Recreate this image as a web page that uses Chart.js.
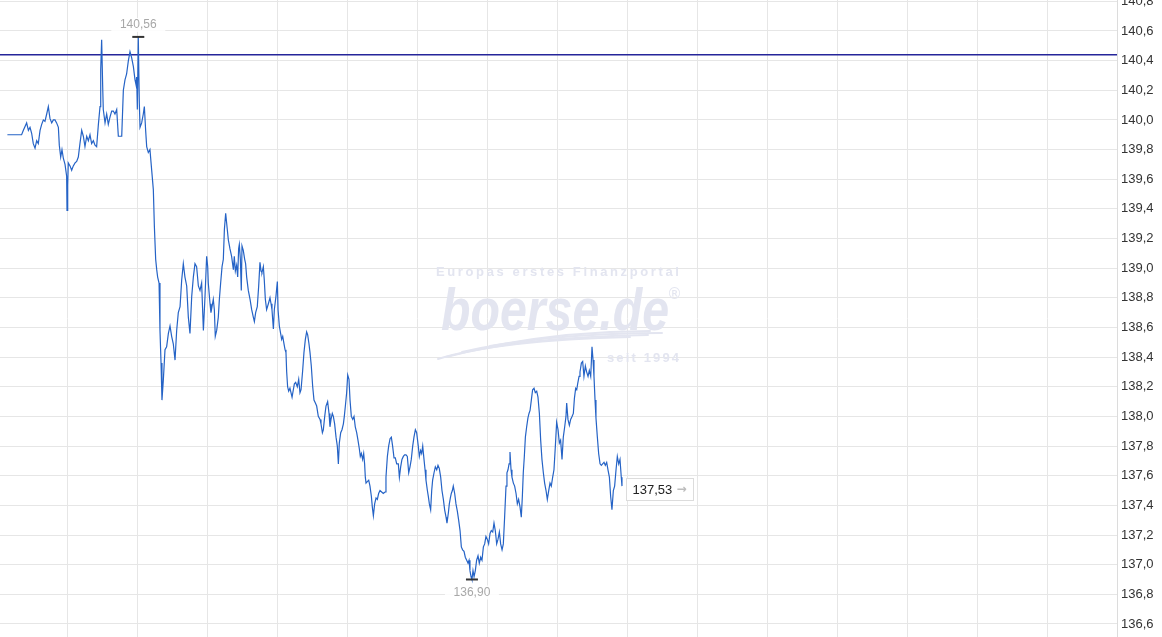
<!DOCTYPE html>
<html><head><meta charset="utf-8">
<script src="https://cdn.jsdelivr.net/npm/chart.js@4/dist/chart.umd.min.js"></script>
<style>html,body{margin:0;padding:0;background:#fff;overflow:hidden}canvas{display:block}</style>
</head><body>
<canvas id="c" width="1162" height="637"></canvas>
<script>
// Time of each quote, minutes after 07:00
const minutes = [
  8.9,21.1,22.6,25.4,26.9,28.3,29.7,31.1,32.6,34.0,
  35.4,36.9,38.3,39.7,41.1,42.6,44.0,45.4,46.9,48.3,
  49.7,51.1,52.6,53.4,54.6,55.7,56.9,58.3,59.7,60.0,
  60.6,61.1,62.6,64.0,65.4,66.9,68.3,69.7,71.1,72.6,
  74.0,75.4,76.9,78.3,79.7,81.1,82.6,84.0,85.4,86.9,
  88.3,88.9,89.7,90.6,91.1,92.6,94.0,95.4,96.9,98.3,
  99.7,101.1,102.6,104.0,106.9,108.3,109.7,111.1,112.6,114.0,
  115.4,116.9,118.3,119.1,119.7,120.3,121.1,122.0,122.6,124.0,
  125.4,126.3,127.4,128.3,129.7,131.1,132.6,134.0,134.9,136.0,
  136.9,137.7,138.9,139.7,140.6,141.4,142.6,144.0,145.4,146.9,
  148.3,149.7,151.1,152.6,154.0,155.4,156.9,158.3,159.7,161.1,
  162.6,164.0,165.4,166.9,168.3,169.7,171.1,172.6,174.0,175.4,
  176.9,178.3,179.7,
  180.6,181.1,182.6,183.4,184.3,185.4,186.3,187.1,188.3,189.7,
  190.6,191.7,192.9,194.0,194.9,196.0,196.9,198.3,199.7,201.1,
  202.6,203.4,204.3,205.4,206.3,207.1,207.7,208.6,209.4,210.0,
  211.1,212.3,213.1,214.0,215.4,216.9,218.3,219.7,220.6,221.7,
  223.1,224.3,225.4,226.3,227.1,228.3,229.1,230.0,231.1,232.6,
  234.0,234.9,235.7,236.9,237.7,239.1,240.3,240.9,242.0,243.1,
  244.0,244.9,246.0,246.9,247.7,248.3,249.1,250.0,251.1,252.0,
  252.9,254.0,254.9,256.0,257.4,258.6,259.7,260.6,262.0,263.1,
  264.3,265.4,266.3,267.4,268.3,269.4,270.6,271.7,272.9,274.0,
  275.4,276.9,277.7,278.9,279.7,280.9,282.0,283.4,284.6,285.4,
  286.3,287.4,288.3,289.4,290.6,291.7,292.6,293.4,294.6,295.7,
  296.9,297.7,298.6,299.7,300.6,301.7,302.6,303.7,304.9,306.0,
  307.1,308.3,309.4,310.6,311.4,312.3,313.4,314.3,315.1,315.7,
  316.3,317.4,318.6,319.7,320.9,321.7,322.6,323.7,324.9,326.0,
  327.1,328.3,329.7,331.1,332.6,333.4,334.6,335.7,336.9,338.0,
  339.1,340.3,341.4,342.6,344.0,344.9,346.0,347.1,348.3,349.4,
  350.6,351.7,352.9,354.0,355.1,356.3,357.4,358.6,359.7,361.1,
  362.0,363.1,364.0,364.9,366.0,366.9,367.7,368.9,369.7,370.6,
  371.7,372.6,373.4,374.6,375.7,376.9,378.0,379.1,380.3,381.4,
  382.6,383.7,384.9,385.7,386.9,387.7,388.6,389.4,390.3,391.1,
  392.3,393.4,394.6,395.7,396.9,398.0,399.1,400.3,401.4,402.6,
  403.7,404.6,405.4,406.3,407.1,408.0,408.9,410.0,411.1,412.3,
  413.4,414.6,415.7,416.9,418.0,419.1,420.3,421.4,422.6,423.7,
  424.9,426.0,427.1,428.3,429.4,430.6,431.7,432.9,434.0,435.1,
  436.3,437.1,438.0,438.9,439.7,440.6,441.4,442.6,443.7,444.9,
  446.0,447.1,448.3,449.4,450.3,451.1,452.0,452.9,454.0,455.1,
  456.0,456.9,458.0,459.1,460.3,461.4,462.6,463.7,464.9,466.0,
  467.1,468.3,469.4,470.6,471.7,472.9,474.0,475.1,476.3,477.4,
  478.6,479.7,480.9,482.0,483.1,484.3,485.4,486.6,487.7,488.3,
  489.4,490.6,491.7,492.9,494.0,494.9,496.0,496.9,497.7,498.9,
  499.7,500.9,502.0,503.1,504.3,505.4,506.6,507.7,508.9,509.4,
  510.0,510.9,511.7,512.6,513.4,514.6,515.7,516.9,518.0,519.1,
  520.3,521.4,522.6,523.7,524.9,526.0,527.1,528.3,529.4,530.6,
  531.7,532.9,534.0,535.1,535.7
];
const prices = [
  139.90,139.90,139.93,139.98,139.93,139.95,139.91,139.84,139.81,139.86,
  139.84,139.93,139.97,140.00,139.99,140.04,140.09,140.01,139.98,140.00,
  140.00,139.98,139.95,139.83,139.75,139.80,139.74,139.70,139.62,139.39,
  139.56,139.71,139.69,139.66,139.69,139.71,139.72,139.75,139.84,139.93,
  139.89,139.82,139.89,139.86,139.90,139.84,139.86,139.83,139.82,139.97,
  140.09,140.34,140.54,140.22,140.07,139.98,140.04,139.97,140.02,140.06,
  140.06,140.04,140.07,139.89,139.89,140.20,140.27,140.31,140.40,140.46,
  140.42,140.36,140.27,140.24,140.29,140.07,140.56,140.11,139.95,139.98,
  140.04,140.09,139.93,139.82,139.78,139.80,139.66,139.53,139.28,139.06,
  138.99,138.94,138.90,138.58,138.36,138.11,138.25,138.45,138.47,138.56,
  138.61,138.54,138.49,138.38,138.58,138.70,138.74,138.92,139.03,138.94,
  138.88,138.67,138.56,138.81,138.94,139.03,139.01,138.88,138.85,138.90,
  138.58,138.81,139.08,
  139.01,138.90,138.76,138.70,138.74,138.79,138.72,138.54,138.58,138.67,
  138.79,138.90,139.01,139.06,139.26,139.37,139.30,139.19,139.13,139.08,
  138.99,139.08,138.98,139.02,138.94,139.13,139.16,139.06,138.85,139.15,
  139.12,139.06,139.03,138.94,138.85,138.79,138.72,138.67,138.64,138.70,
  138.74,138.88,139.04,138.98,138.97,139.01,138.92,138.79,138.72,138.76,
  138.80,138.76,138.72,138.59,138.72,138.81,138.91,138.72,138.61,138.56,
  138.52,138.54,138.49,138.45,138.43,138.30,138.20,138.17,138.19,138.16,
  138.13,138.18,138.22,138.23,138.20,138.25,138.16,138.18,138.31,138.43,
  138.52,138.57,138.55,138.49,138.43,138.34,138.20,138.11,138.09,138.07,
  138.00,137.98,137.95,137.89,137.91,138.00,138.07,138.10,138.02,137.93,
  137.98,138.02,138.00,137.95,137.86,137.80,137.68,137.82,137.89,137.91,
  137.95,138.00,138.07,138.16,138.28,138.25,138.11,138.00,137.98,138.00,
  137.93,137.89,137.84,137.78,137.73,137.75,137.71,137.75,137.68,137.59,
  137.55,137.56,137.57,137.53,137.46,137.39,137.33,137.41,137.45,137.44,
  137.48,137.50,137.49,137.48,137.49,137.59,137.73,137.80,137.85,137.86,
  137.80,137.72,137.72,137.68,137.68,137.59,137.66,137.71,137.73,137.74,
  137.74,137.73,137.62,137.66,137.71,137.80,137.86,137.91,137.89,137.80,
  137.73,137.77,137.75,137.80,137.71,137.64,137.57,137.50,137.46,137.41,
  137.37,137.50,137.57,137.62,137.66,137.64,137.67,137.65,137.59,137.50,
  137.44,137.37,137.32,137.28,137.35,137.41,137.45,137.48,137.50,137.53,
  137.48,137.41,137.36,137.30,137.23,137.12,137.10,137.09,137.05,137.03,
  137.01,137.03,136.96,136.92,136.90,136.96,136.92,136.96,137.03,137.06,
  137.01,137.05,137.03,137.12,137.14,137.19,137.17,137.14,137.21,137.23,
  137.22,137.28,137.23,137.14,137.17,137.22,137.14,137.10,137.14,137.32,
  137.53,137.62,137.64,137.68,137.76,137.64,137.59,137.55,137.53,137.48,
  137.41,137.44,137.39,137.32,137.46,137.62,137.73,137.86,137.93,137.99,
  138.02,138.04,138.11,138.18,138.19,138.16,138.17,138.13,138.02,137.84,
  137.71,137.62,137.55,137.50,137.44,137.50,137.55,137.53,137.59,137.64,
  137.80,137.96,137.91,137.82,137.84,137.71,137.86,137.93,138.00,138.09,
  137.98,137.94,137.98,138.00,138.02,138.12,138.19,138.18,138.22,138.27,
  138.30,138.36,138.37,138.27,138.34,138.30,138.27,138.31,138.27,138.36,
  138.47,138.38,138.27,138.11,137.99,137.86,137.75,137.68,137.67,137.68,
  137.69,137.67,137.69,137.64,137.59,137.46,137.37,137.50,137.53,137.64,
  137.73,137.68,137.71,137.59,137.53
];
const priceTicks = [136.6,136.8,137.0,137.2,137.4,137.6,137.8,138.0,138.2,138.4,138.6,138.8,139.0,139.2,139.4,139.6,139.8,140.0,140.2,140.4,140.6,140.8];
const hourTicks = [60,120,180,240,300,360,420,480,540,600,660,720,780,840,900,960];
const prevClose = 140.44;
const dayHigh = {t: 121.1, v: 140.56, label: '140,56'};
const dayLow = {t: 407.1, v: 136.90, label: '136,90'};
const lastQuote = {t: 535.7, v: 137.53, label: '137,53'};
const watermark = {tag: 'Europas erstes Finanzportal', logo: 'boerse.de', since: 'seit 1994'};

const FONT = '"Liberation Sans", Arial, sans-serif';
const wmColor = '#e3e5f0';

function spacedText(ctx, text, x, y, targetW) {
  ctx.letterSpacing = '0px';
  const w = ctx.measureText(text).width;
  const sp = (targetW - w) / (text.length - 1);
  ctx.letterSpacing = sp.toFixed(2) + 'px';
  ctx.fillText(text, x, y);
  ctx.letterSpacing = '0px';
}

const overlay = {
  id: 'overlay',
  beforeDatasetsDraw(chart) {
    const ctx = chart.ctx;
    ctx.save();
    ctx.fillStyle = wmColor; ctx.strokeStyle = wmColor;
    ctx.textAlign = 'left'; ctx.textBaseline = 'alphabetic';
    ctx.font = 'bold 13px ' + FONT;
    spacedText(ctx, watermark.tag, 436, 276, 243);
    ctx.font = 'italic bold 60px ' + FONT;
    const lw = ctx.measureText(watermark.logo).width;
    ctx.save(); ctx.translate(441, 330); ctx.scale(228 / lw, 1);
    ctx.fillText(watermark.logo, 0, 0); ctx.restore();
    ctx.font = '15px "DejaVu Sans"';
    ctx.fillText('®', 667, 299);
    ctx.lineWidth = 2; ctx.lineCap = 'round';
    const sw = [[438,359,500,340,630,337],[446,357,520,337,648,335],[462,352,545,333,662,333],[490,346,570,331,650,331]];
    sw.forEach(s => { ctx.beginPath(); ctx.moveTo(s[0], s[1]); ctx.quadraticCurveTo(s[2], s[3], s[4], s[5]); ctx.stroke(); });
    ctx.font = 'bold 13px ' + FONT;
    spacedText(ctx, watermark.since, 607, 362, 72);
    ctx.restore();
  },
  afterDatasetsDraw(chart) {
    const ctx = chart.ctx, xs = chart.scales.x, ys = chart.scales.y;
    ctx.save();
    ctx.font = '12px ' + FONT;
    ctx.textAlign = 'center'; ctx.textBaseline = 'middle';
    // day high
    let x = xs.getPixelForValue(dayHigh.t), y = ys.getPixelForValue(dayHigh.v);
    ctx.fillStyle = 'rgba(255,255,255,0.85)';
    ctx.fillRect(x - 27, y - 19, 54, 14);
    ctx.fillStyle = '#a8a8a8';
    ctx.fillText(dayHigh.label, x, y - 12);
    ctx.strokeStyle = '#333'; ctx.lineWidth = 2;
    ctx.beginPath(); ctx.moveTo(x - 6, y); ctx.lineTo(x + 6, y); ctx.stroke();
    // day low
    x = xs.getPixelForValue(dayLow.t); y = ys.getPixelForValue(dayLow.v);
    ctx.beginPath(); ctx.moveTo(x - 6, y); ctx.lineTo(x + 6, y); ctx.stroke();
    ctx.fillStyle = 'rgba(255,255,255,0.85)';
    ctx.fillRect(x - 27, y + 6, 54, 14);
    ctx.fillStyle = '#a8a8a8';
    ctx.fillText(dayLow.label, x, y + 13);
    // last quote box
    x = xs.getPixelForValue(lastQuote.t); y = ys.getPixelForValue(lastQuote.v) + 3;
    const bx = Math.round(x + 4) + 0.5, by = Math.round(y - 11) + 0.5;
    ctx.fillStyle = '#fff'; ctx.fillRect(bx, by, 67, 22);
    ctx.strokeStyle = '#dcdcdc'; ctx.lineWidth = 1; ctx.strokeRect(bx, by, 67, 22);
    ctx.font = '13px ' + FONT; ctx.textAlign = 'left';
    ctx.fillStyle = '#222'; ctx.fillText(lastQuote.label, bx + 6, y + 1);
    ctx.fillStyle = '#bdbdbd'; ctx.font = 'bold 12px "DejaVu Sans"';
    ctx.fillText('→', bx + 50, y + 1);
    ctx.restore();
  }
};

new Chart(document.getElementById('c'), {
  type: 'line',
  data: {
    datasets: [
      {
        data: minutes.map((t, i) => ({x: t, y: prices[i]})),
        borderColor: '#2563c6', borderWidth: 1.2, pointRadius: 0, tension: 0, fill: false
      },
      {
        data: [{x: 2.571, y: prevClose}, {x: 960, y: prevClose}],
        borderColor: '#25259a', borderWidth: 1.5, pointRadius: 0, fill: false
      }
    ]
  },
  options: {
    responsive: false, animation: false, events: [],
    layout: {padding: 0},
    plugins: {legend: {display: false}, tooltip: {enabled: false}},
    scales: {
      x: {
        type: 'linear', min: 2.571, max: 960,
        ticks: {display: false},
        grid: {color: '#e6e6e6', lineWidth: 1, drawTicks: false},
        border: {display: false},
        afterBuildTicks: s => { s.ticks = hourTicks.map(v => ({value: v})); },
        afterFit: s => { s.height = 0; s.paddingLeft = 0; s.paddingRight = 0; }
      },
      y: {
        type: 'linear', position: 'right', min: 136.512, max: 140.809,
        ticks: {
          padding: 4, color: '#333', font: {family: FONT, size: 13},
          callback: v => v.toFixed(1).replace('.', ',')
        },
        grid: {color: '#e6e6e6', lineWidth: 1, drawTicks: false},
        border: {color: '#dcdcdc'},
        afterBuildTicks: s => { s.ticks = priceTicks.map(v => ({value: v})); },
        afterFit: s => { s.width = 45; s.paddingTop = 0; s.paddingBottom = 0; }
      }
    }
  },
  plugins: [overlay]
});
</script>
</body></html>
